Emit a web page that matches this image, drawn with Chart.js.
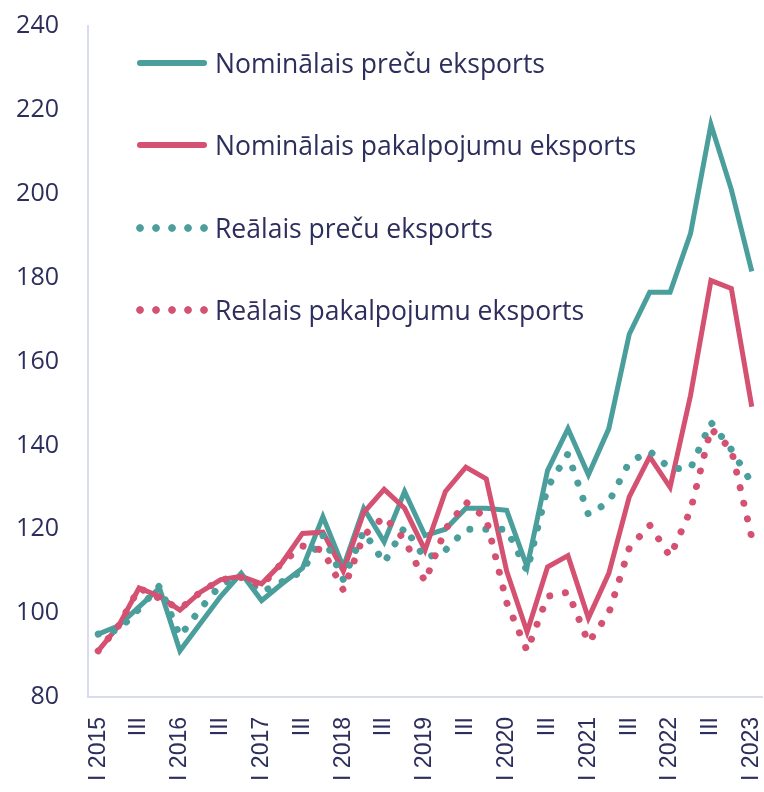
<!DOCTYPE html>
<html>
<head>
<meta charset="utf-8">
<script src="https://cdn.jsdelivr.net/npm/chart.js@4"></script>
<style>
  html,body{margin:0;padding:0;background:#fff;}
  #wrap{position:relative;width:764px;height:792px;}
  #legend{position:absolute;left:0;top:0;}
  .row{position:absolute;left:0;height:36px;width:700px;}
  .row .txt{position:absolute;left:215px;top:0;line-height:36px;font:26.5px "Open Sans";color:#2c2e5c;white-space:nowrap;}
  .row .solid{position:absolute;left:137px;top:15px;width:70px;height:6px;border-radius:3px;}
  .row .dots{position:absolute;left:132px;top:14px;width:80px;height:8px;}
</style>
</head>
<body>
<div id="wrap">
  <canvas id="chart" width="764" height="792"></canvas>
  <div id="legend"></div>
</div>
<script>
const TEAL = "#4a9e9b", PINK = "#d45172", INK = "#2c2e5c", AXIS = "#d9dbee";

// quarters I 2015 .. I 2023
const quarters = [
  "I 2015","II","III","IV","I 2016","II","III","IV","I 2017","II","III","IV",
  "I 2018","II","III","IV","I 2019","II","III","IV","I 2020","II","III","IV",
  "I 2021","II","III","IV","I 2022","II","III","IV","I 2023"
];
const shownTicks = q => (q === "II" || q === "IV") ? "" : q;

const seriesNames = [
  "Nominālais preču eksports",
  "Nominālais pakalpojumu eksports",
  "Reālais preču eksports",
  "Reālais pakalpojumu eksports"
];

const nomGoods = [95, 97, 101.5, 106, 91, 97.5, 104, 109.5, 103, 107, 110.7, 123,
  111, 125, 117, 129, 118.5, 120, 125, 125, 124.5, 111, 134, 144,
  133, 144, 166.5, 176.5, 176.5, 190.5, 216.5, 201, 181.5];
const nomServ = [91, 97, 106, 104, 100.7, 105, 108, 108.8, 107, 112, 119, 119.3,
  110, 124, 129.5, 125, 115, 129, 134.8, 132, 110, 95.5, 111, 113.7,
  98.8, 109.5, 127.7, 137.3, 130, 151.9, 179.3, 177.4, 149.2];
const realGoods = [95, 96, 101, 106.5, 94.5, 101, 106.8, 108.8, 105, 107.5, 110, 118.5,
  108, 119.5, 112, 120.5, 113, 115, 120, 120, 120, 110, 130, 138,
  123.5, 126.5, 136, 138.6, 134.5, 134.5, 145.5, 139, 131];
const realServ = [91, 97, 106, 103.5, 101, 105, 108, 108.5, 106.5, 112, 116, 115,
  105.5, 118.5, 123, 117.5, 107.5, 120, 126.5, 122.5, 102.5, 91, 104, 105,
  93, 100, 115.5, 121, 113.5, 124.5, 144, 139, 118];

const yMin = 80, yMax = 240, yStep = 20;

function solid(label, data, color, order){
  return {label, data, borderColor:color, backgroundColor:color, borderWidth:5,
    pointRadius:0, tension:0, fill:false, order, dotted:false};
}
function dotted(label, data, color, order){
  return {label, data, borderColor:color, backgroundColor:color, borderWidth:7,
    borderDash:[0.01,16], borderCapStyle:"round", pointRadius:0, tension:0,
    fill:false, order, dotted:true};
}

const datasets = [
  solid(seriesNames[0], nomGoods, TEAL, 4),
  solid(seriesNames[1], nomServ, PINK, 3),
  dotted(seriesNames[2], realGoods, TEAL, 2),
  dotted(seriesNames[3], realServ, PINK, 1)
];

const chart = new Chart(document.getElementById("chart"), {
  type: "line",
  data: {labels: quarters, datasets},
  options: {
    responsive: false,
    animation: false,
    devicePixelRatio: 1,
    layout: {padding: {top: 26, right: 2, left: 0, bottom: 0}},
    plugins: {legend: {display: false}, tooltip: {enabled: false}},
    scales: {
      x: {
        offset: true,
        grid: {display: false, drawTicks: false},
        border: {display: true, color: AXIS, width: 2},
        ticks: {
          autoSkip: false, minRotation: 90, maxRotation: 90, padding: 20,
          color: INK, font: {family: "Liberation Sans", size: 23},
          callback: (v, i) => shownTicks(quarters[i])
        },
        afterFit: s => { s.height = 95; s.paddingLeft = 0; s.paddingRight = 0; }
      },
      y: {
        min: yMin, max: yMax,
        grid: {display: false, drawTicks: false},
        border: {display: true, color: AXIS, width: 2},
        ticks: {stepSize: yStep, padding: 29, color: INK,
          font: {family: "Open Sans", size: 25}},
        afterFit: s => { s.width = 88; s.paddingTop = 0; s.paddingBottom = 0; }
      }
    }
  }
});

// legend built from the datasets
const legendRows = [63, 145, 228, 310];
const lg = document.getElementById("legend");
datasets.forEach((d, i) => {
  const row = document.createElement("div");
  row.className = "row";
  row.style.top = (legendRows[i] - 18) + "px";
  const sample = document.createElement("div");
  if (d.dotted) {
    sample.className = "dots";
    sample.style.background = `radial-gradient(circle, ${d.borderColor} 3.4px, transparent 4.2px) 0 0 / 16px 8px repeat-x`;
  } else {
    sample.className = "solid";
    sample.style.background = d.borderColor;
  }
  const txt = document.createElement("span");
  txt.className = "txt";
  txt.textContent = d.label;
  row.appendChild(sample); row.appendChild(txt);
  lg.appendChild(row);
});
</script>
</body>
</html>
